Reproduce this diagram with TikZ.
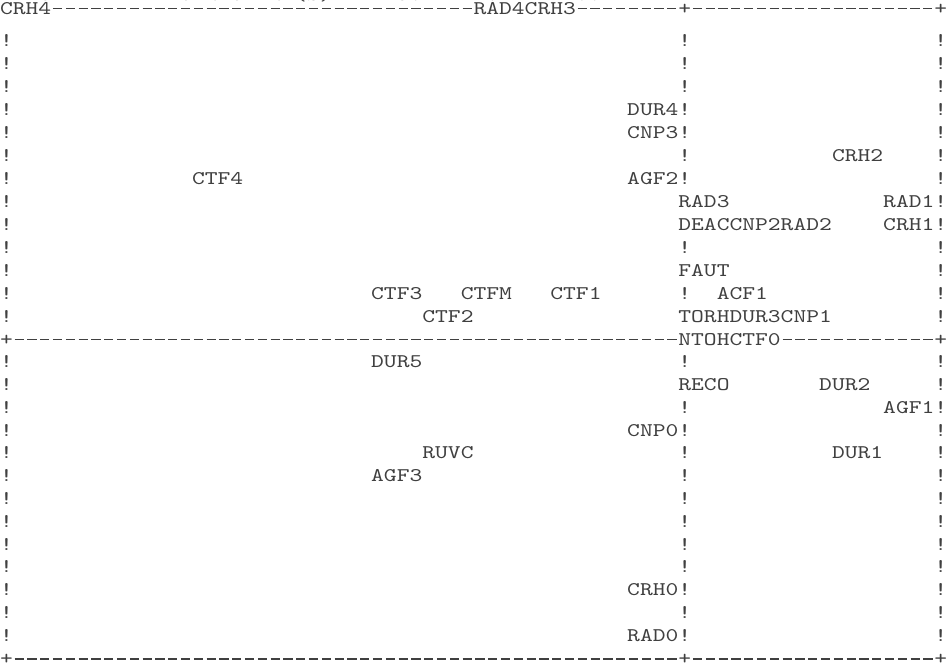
\documentclass[tikz,border=0pt]{standalone}
\usepackage{fontspec}
\newfontfamily\pf{lmmono10-regular.otf}[FakeStretch=1.26]
\ExplSyntaxOn
\NewDocumentCommand\Dsh{m}{\prg_replicate:nn{#1}{\makebox[9.6pt][c]{\rule[3.4pt]{6.9pt}{1.1pt}}}}
\ExplSyntaxOff
\tikzset{lab/.style={anchor=base west, inner sep=0pt, outer sep=0pt,
  font=\pf\fontsize{14.5}{14.5}\selectfont, text=black!75}}
\newcommand\PL[4]{\node[lab] (#4) at ({12.8*(#1)},{ifthenelse(#2==0,8,ifthenelse(#2<=14,339-(14-#2)*23,339+(#2-14)*22.79))+6}) {#3};}
\begin{document}
\begin{tikzpicture}[x=0.75pt,y=-0.75pt]
\fill[white] (0,0) rectangle (948,665);
\useasboundingbox (0,0) rectangle (948,665);
% clipped header line
\node[lab] (hdr) at ({12.8*2},0.5) {ECHELLE : 1 CARACTERE(S) =  .150  1 LIGNE = .002};
% borders
\PL{0}{0}{CRH4\Dsh{33}RAD4CRH3\Dsh{8}+\Dsh{19}+}{top}
\PL{0}{14}{+\Dsh{52}NTOHCTF0\Dsh{12}+}{mid}
\PL{0}{28}{+\Dsh{52}+\Dsh{19}+}{bot}
% left column
\foreach \r in {1,...,13,15,16,...,27}{\PL{0}{\r}{!}{L\r}}
% middle column
\foreach \r in {1,2,3,6,10,12,15,17,19,20,21,22,23,24,26}{\PL{53}{\r}{!}{M\r}}
% right column
\foreach \r in {1,...,7,10,11,12,13,15,16,18,19,...,27}{\PL{73}{\r}{!}{R\r}}
% labels, top half
\PL{49}{4}{DUR4!}{dur4}
\PL{49}{5}{CNP3!}{cnp3}
\PL{65}{6}{CRH2}{crh2}
\PL{15}{7}{CTF4}{ctf4}
\PL{49}{7}{AGF2!}{agf2}
\PL{53}{8}{RAD3}{rad3}
\PL{69}{8}{RAD1!}{rad1}
\PL{53}{9}{DEACCNP2RAD2}{deac}
\PL{69}{9}{CRH1!}{crh1}
\PL{53}{11}{FAUT}{faut}
\PL{29}{12}{CTF3}{ctf3}
\PL{36}{12}{CTFM}{ctfm}
\PL{43}{12}{CTF1}{ctf1}
\PL{56}{12}{ACF1}{acf1}
\PL{33}{13}{CTF2}{ctf2}
\PL{53}{13}{TORHDUR3CNP1}{torh}
% labels, bottom half
\PL{29}{15}{DUR5}{dur5}
\PL{53}{16}{RECO}{reco}
\PL{64}{16}{DUR2}{dur2}
\PL{69}{17}{AGF1!}{agf1}
\PL{49}{18}{CNP0!}{cnp0}
\PL{33}{19}{RUVC}{ruvc}
\PL{65}{19}{DUR1}{dur1}
\PL{29}{20}{AGF3}{agf3}
\PL{49}{25}{CRH0!}{crh0}
\PL{49}{27}{RAD0!}{rad0}
\end{tikzpicture}
\end{document}
